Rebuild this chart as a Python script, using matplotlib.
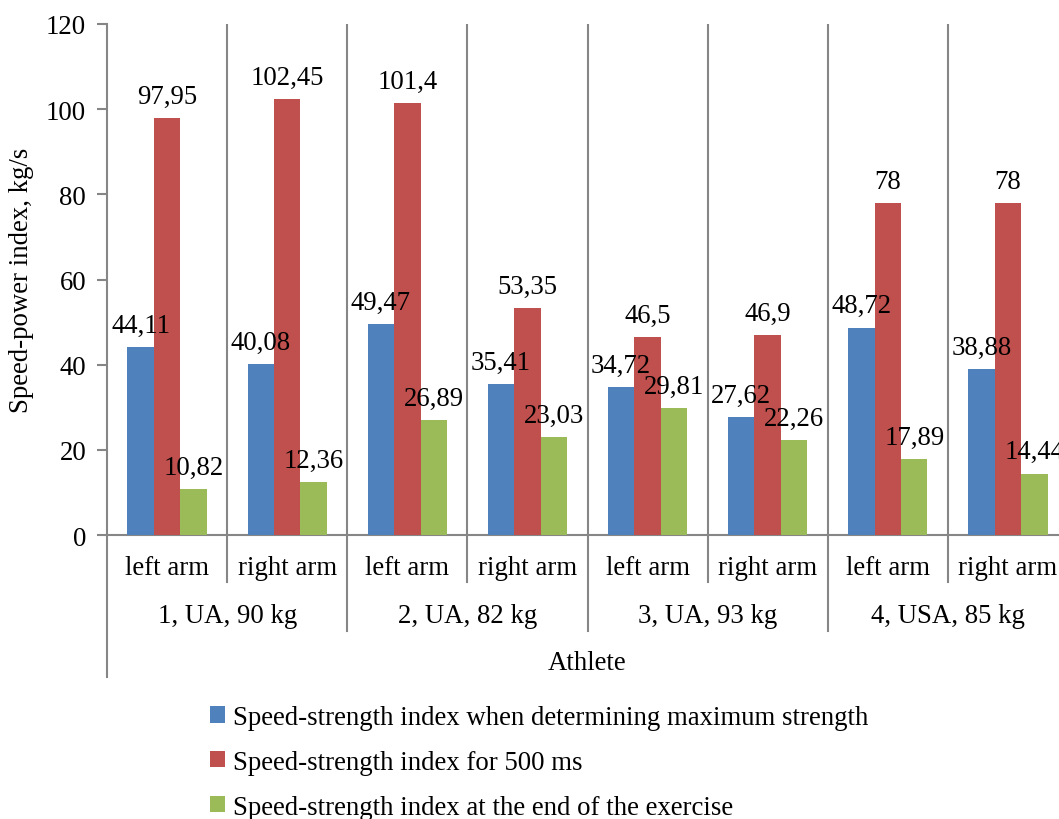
import matplotlib
matplotlib.use("Agg")
import matplotlib.pyplot as plt
import numpy as np

plt.rcParams["font.family"] = ["Liberation Serif", "DejaVu Serif"]

# Data: one slot per arm, two arms per athlete
arms = ["left arm", "right arm"] * 4
athletes = ["1, UA, 90 kg", "2, UA, 82 kg", "3, UA, 93 kg", "4, USA, 85 kg"]

max_strength = [44.11, 40.08, 49.47, 35.41, 34.72, 27.62, 48.72, 38.88]
ms500 = [97.95, 102.45, 101.4, 53.35, 46.5, 46.9, 78, 78]
end_exercise = [10.82, 12.36, 26.89, 23.03, 29.81, 22.26, 17.89, 14.44]

series_names = [
    "Speed-strength index when determining maximum strength",
    "Speed-strength index for 500 ms",
    "Speed-strength index at the end of the exercise",
]
colors = ["#4F81BD", "#C0504D", "#9BBB59"]

FS = 19.3
GRAY = "#868686"


def fmt(v):
    s = f"{v:.2f}".rstrip("0").rstrip(".")
    return s.replace(".", ",")


fig = plt.figure(figsize=(10.59, 8.2), dpi=100)
# plot area runs a little past the right edge of the figure
ax = fig.add_axes([107 / 1059, 284 / 820, 961 / 1059, 511 / 820])

x = np.arange(len(arms))
width = 0.22
handles = []
for i, (vals, name, col) in enumerate(zip([max_strength, ms500, end_exercise], series_names, colors)):
    bars = ax.bar(x + (i - 1) * width, vals, width, color=col, label=name, zorder=3)
    handles.append(bars)
    for b, v in zip(bars, vals):
        ax.annotate(fmt(v), (b.get_x() + b.get_width() / 2, v), xytext=(0, 11),
                    textcoords="offset points", ha="center", va="baseline",
                    fontsize=FS, zorder=4, annotation_clip=False)

ax.set_xlim(-0.5, len(arms) - 0.5)
ax.set_ylim(0, 120)
ax.set_yticks(range(0, 121, 20))
ax.tick_params(axis="y", labelsize=FS, length=7, width=1.5, color=GRAY, pad=8)
ax.set_xticks([])

for sp in ["top", "right"]:
    ax.spines[sp].set_visible(False)
for sp in ["left", "bottom"]:
    ax.spines[sp].set_color(GRAY)
    ax.spines[sp].set_linewidth(1.5)

# vertical separators inside the plot area
for b in np.arange(0.5, len(arms) - 0.5, 1):
    ax.plot([b, b], [0, 1], color=GRAY, lw=1.5, transform=ax.get_xaxis_transform(), zorder=1)

# separators in the category label area
trans = ax.get_xaxis_transform()
for b in np.arange(0.5, len(arms), 1):
    depth = -0.188 if int(b + 0.5) % 2 == 0 else -0.092
    ax.plot([b, b], [0, depth], color=GRAY, lw=1.5, transform=trans, clip_on=False)
ax.plot([-0.5, -0.5], [0, -0.278], color=GRAY, lw=1.5, transform=trans, clip_on=False)

# two-level category labels
for xi, name in zip(x, arms):
    ax.text(xi, -0.063, name, ha="center", va="center", fontsize=FS, transform=trans)
for k, name in enumerate(athletes):
    ax.text(2 * k + 0.5, -0.158, name, ha="center", va="center", fontsize=FS, transform=trans)

ax.text(3.5, -0.25, "Athlete", ha="center", va="center", fontsize=FS, transform=trans)
fig.text(22 / 1059, 1 - 280 / 820, "Speed-power index, kg/s", rotation=90,
         ha="center", va="center", fontsize=FS)

fig.legend(handles=handles, labels=series_names, loc="upper left",
           bbox_to_anchor=(210 / 1059, 1 - 706 / 820), frameon=False, fontsize=FS,
           handlelength=0.55, handleheight=0.55, handletextpad=0.3, labelspacing=0.74,
           borderaxespad=0, borderpad=0)

fig.savefig("out.png", dpi=100)
